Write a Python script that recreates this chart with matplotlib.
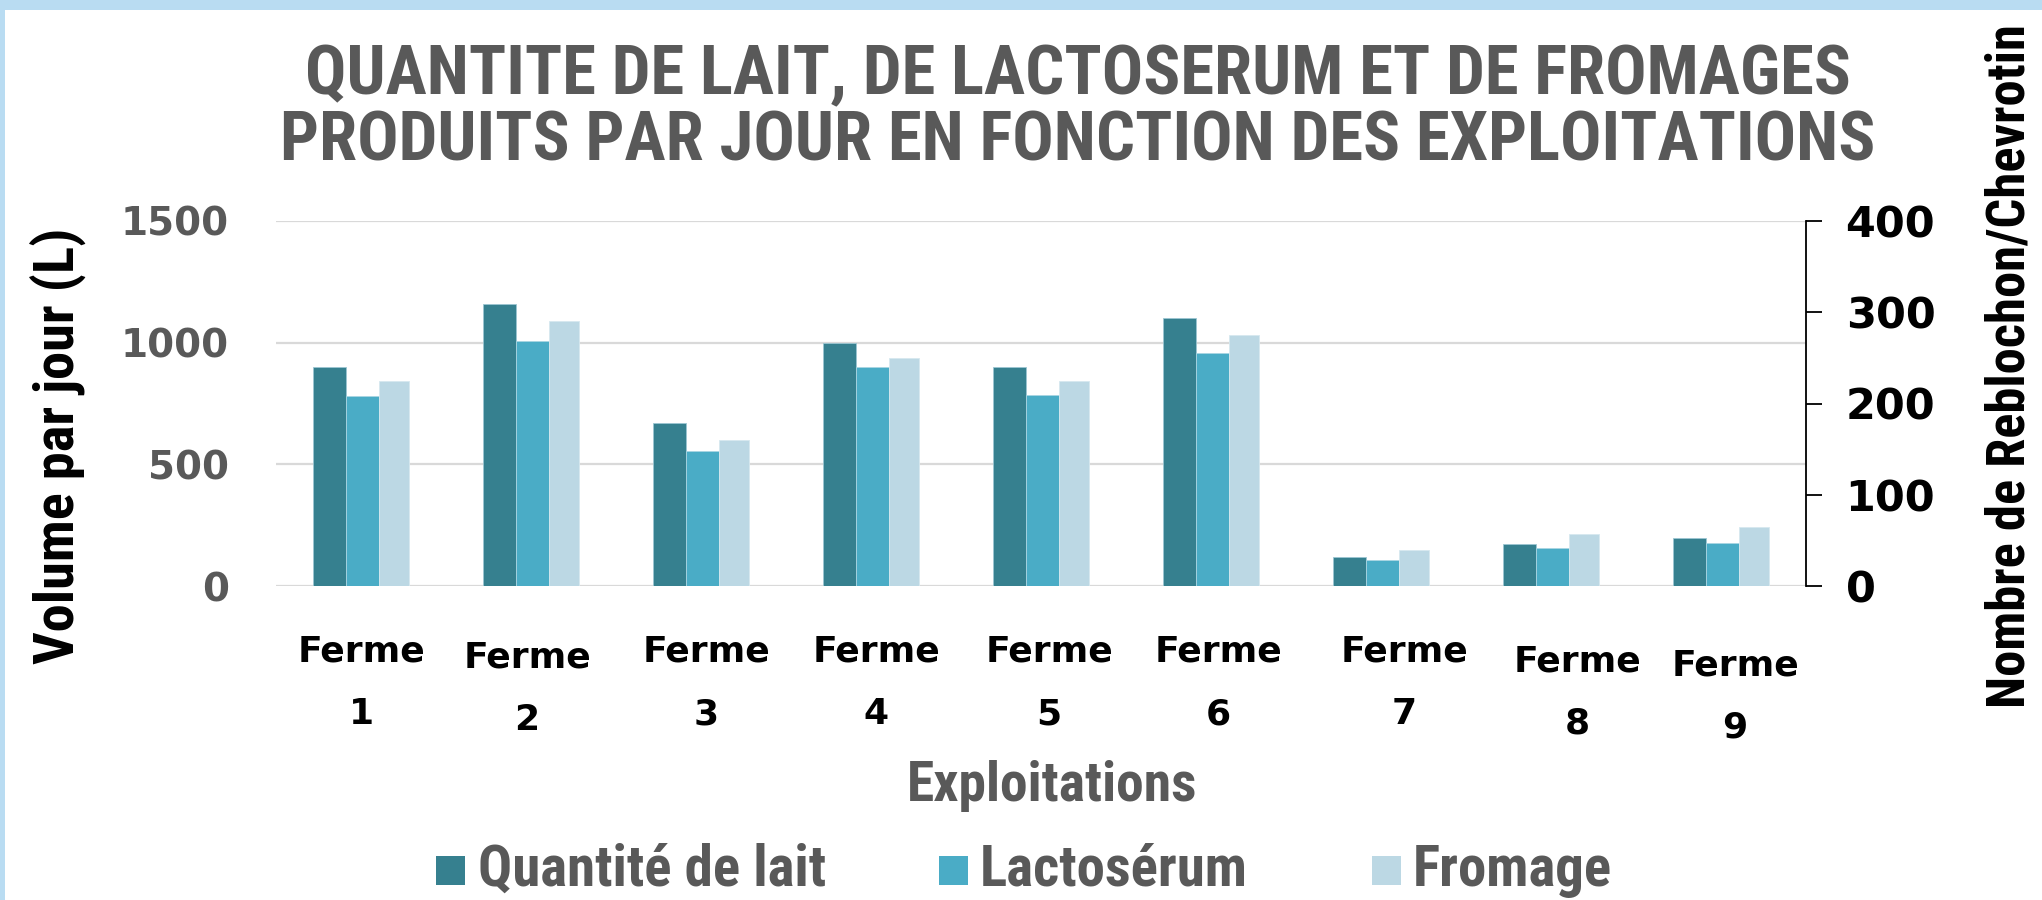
import matplotlib
matplotlib.use("Agg")
import matplotlib.pyplot as plt
from matplotlib import font_manager as fm
from matplotlib.patches import Rectangle
import numpy as np

# Data
fermes = ["Ferme\n1", "Ferme\n2", "Ferme\n3", "Ferme\n4", "Ferme\n5",
          "Ferme\n6", "Ferme\n7", "Ferme\n8", "Ferme\n9"]
lait = [900, 1160, 670, 1000, 900, 1100, 120, 173, 197]
lactoserum = [782, 1005, 555, 902, 784, 958, 105, 155, 177]
fromage = [225, 290, 160, 250, 225, 275, 40, 57, 65]
series_names = ["Quantité de lait", "Lactosérum", "Fromage"]

left_ticks = [0, 500, 1000, 1500]
right_ticks = [0, 100, 200, 300, 400]

# small hand placement of the category labels (pixels), as in the slide
label_dx = [0, -4, 5, 5, 8, 7, 23, 26, 14]
label_dy = [0, -6, 0, 0, 0, 0, 0, -9, -13]

c_lait = "#36808f"
c_lacto = "#4aacc6"
c_from = "#bcd8e4"
gray = "#595959"

installed = {f.name for f in fm.fontManager.ttflist}
def pick(cands):
    for c in cands:
        if c in installed:
            return [c, "DejaVu Sans"]
    return ["DejaVu Sans"]

narrow = pick(["Roboto Condensed", "Archivo Narrow", "Liberation Sans Narrow",
               "PT Sans Narrow", "Pragati Narrow", "Sofia Sans Condensed"])
wide = ["DejaVu Sans"]

W, H = 2042, 900
fig = plt.figure(figsize=(W / 100, H / 100), dpi=100)
fig.patch.set_facecolor("white")
rend = fig.canvas.get_renderer()

def fit(t, target, vertical=False):
    bb = t.get_window_extent(rend)
    cur = bb.height if vertical else bb.width
    t.set_fontsize(t.get_fontsize() * target / cur)

# light blue frame of the slide
fig.add_artist(Rectangle((0, 1 - 10 / H), 1, 10 / H, transform=fig.transFigure,
                         color="#b9dcf2", lw=0))
fig.add_artist(Rectangle((0, 0), 5 / W, 1, transform=fig.transFigure,
                         color="#b9dcf2", lw=0))

ax = fig.add_axes([276 / W, 1 - 586 / H, 1530 / W, 365 / H])
ax2 = ax.twinx()

x = np.arange(len(fermes))
w1, w2, w3 = 0.195, 0.194, 0.178
x1 = x - 0.285 + w1 / 2
x2 = x - 0.285 + w1 + w2 / 2
x3 = x - 0.285 + w1 + w2 + w3 / 2
ax.bar(x1, lait, width=w1, color=c_lait, edgecolor="#9cc6d2", lw=0.6, zorder=3)
ax.bar(x2, lactoserum, width=w2, color=c_lacto, edgecolor="#a9d6e2", lw=0.6, zorder=3)
ax2.bar(x3, fromage, width=w3, color=c_from, edgecolor="#d6e8ef", lw=0.6, zorder=3)

ax.set_xlim(-0.5, len(fermes) - 0.5)
ax.set_ylim(0, 1500)
ax2.set_ylim(0, 400)
ax.set_yticks(left_ticks)
ax2.set_yticks(right_ticks)
ax.yaxis.grid(True, color="#d9d9d9", lw=1.6, zorder=0)
ax.set_axisbelow(True)
for s in ["top", "left", "right", "bottom"]:
    ax.spines[s].set_visible(False)
for s in ["top", "left", "bottom"]:
    ax2.spines[s].set_visible(False)
ax2.spines["right"].set_color("black")
ax2.spines["right"].set_linewidth(1.3)

ax.tick_params(axis="y", length=0, pad=34, labelcolor=gray)
ax2.tick_params(axis="y", length=11.5, width=1.3, direction="out", pad=17,
                labelcolor="black")
for lab in ax.get_yticklabels():
    lab.set_fontfamily(wide)
    lab.set_fontweight("bold")
    lab.set_fontsize(28)
for lab in ax2.get_yticklabels():
    lab.set_fontfamily(wide)
    lab.set_fontweight("bold")
    lab.set_fontsize(31)

# category labels under the groups
ax.set_xticks(x)
ax.set_xticklabels([])
ax.tick_params(axis="x", length=0)
for i, lab in enumerate(fermes):
    ax.annotate(lab, xy=(x[i], 0), xycoords=("data", "axes fraction"),
                xytext=(label_dx[i], -49 + label_dy[i]), textcoords="offset pixels",
                ha="center", va="top", fontsize=26, fontweight="bold",
                family=wide, color="black", linespacing=2.05)

# title, two centred lines
t1 = fig.text(1078 / W, 1 - 76 / H, "QUANTITE DE LAIT, DE LACTOSERUM ET DE FROMAGES",
              ha="center", va="center", fontsize=44, fontweight="bold",
              family=narrow, color=gray)
t2 = fig.text(1078 / W, 1 - 142 / H, "PRODUITS PAR JOUR EN FONCTION DES EXPLOITATIONS",
              ha="center", va="center", fontsize=44, fontweight="bold",
              family=narrow, color=gray)
fit(t2, 1595)
t1.set_fontsize(t2.get_fontsize())

yl = fig.text(59 / W, 1 - 446 / H, "Volume par jour (L)", rotation=90,
              ha="center", va="center", fontsize=34, fontweight="bold",
              family=narrow, color="black")
fit(yl, 436, vertical=True)
yr = fig.text(2010 / W, 1 - 366 / H, "Nombre de Reblochon/Chevrotin", rotation=90,
              ha="center", va="center", fontsize=30, fontweight="bold",
              family=narrow, color="black")
fit(yr, 684, vertical=True)
xl = fig.text(1052 / W, 1 - 786 / H, "Exploitations",
              ha="center", va="center", fontsize=34, fontweight="bold",
              family=narrow, color=gray)
fit(xl, 290)

# legend: colour squares followed by names
sq_x = [436, 939, 1372]
txt_x = [478, 980, 1413]
leg_y = 870
sq = 29
colors = [c_lait, c_lacto, c_from]
texts = []
for i, name in enumerate(series_names):
    fig.add_artist(Rectangle((sq_x[i] / W, 1 - (leg_y + sq / 2) / H), sq / W, sq / H,
                             transform=fig.transFigure, color=colors[i], lw=0))
    texts.append(fig.text(txt_x[i] / W, 1 - leg_y / H, name, ha="left", va="center",
                          fontsize=36, fontweight="bold", family=narrow, color=gray))
fit(texts[0], 349)
for t in texts[1:]:
    t.set_fontsize(texts[0].get_fontsize())

fig.savefig("out.png", dpi=100, facecolor="white")
